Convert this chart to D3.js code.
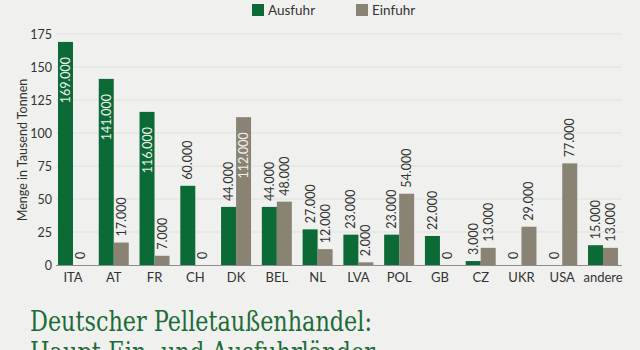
<!DOCTYPE html>
<html><head><meta charset="utf-8">
<script src="https://cdn.jsdelivr.net/npm/d3@7"></script>
<style>
html,body{margin:0;padding:0;background:#f0f1ee;}
svg{display:block;}
</style></head>
<body>
<svg id="c" width="640" height="350"></svg>
<script>
const categories = ["ITA","AT","FR","CH","DK","BEL","NL","LVA","POL","GB","CZ","UKR","USA","andere"];
const ausfuhr = [169,141,116,60,44,44,27,23,23,22,3,0,0,15];
const einfuhr = [0,17,7,0,112,48,12,2,54,0,13,29,77,13];
const yTicks = [0,25,50,75,100,125,150,175];
const seriesNames = ["Ausfuhr","Einfuhr"];
const colors = ["#0b6a35","#8a8373"];

const svg = d3.select("#c");
const font = "'Source Sans Pro','Lato','Noto Sans',sans-serif";
svg.append("rect").attr("width",640).attr("height",350).attr("fill","#f0f1ee");

const x = d3.scaleBand().domain(categories).range([52.6,623.4]).paddingInner(0).paddingOuter(0);
const y = d3.scaleLinear().domain([0,175]).range([265,34]);
const bw = 15;

// grid
svg.append("g").selectAll("line").data(yTicks.filter(d=>d>0)).join("line")
  .attr("x1",56).attr("x2",622).attr("y1",d=>y(d)).attr("y2",d=>y(d))
  .attr("stroke","#dfe0dc").attr("stroke-width",1);

// y axis
const ya = svg.append("g").attr("transform","translate(56,0)")
  .call(d3.axisLeft(y).tickValues(yTicks).tickSize(0).tickPadding(4));
ya.select(".domain").remove();
ya.selectAll("text").attr("font-family",font).attr("font-size",12.5).attr("fill","#333");

svg.append("text").attr("transform","translate(27,150) rotate(-90)")
  .attr("text-anchor","middle").attr("font-family",font).attr("font-size",12.5).attr("fill","#333")
  .text("Menge in Tausend Tonnen");

const data = categories.map((c,i)=>({c, vals:[ausfuhr[i],einfuhr[i]]}));
const g = svg.append("g");
data.forEach(d=>{
  d.vals.forEach((v,k)=>{
    const cx = x(d.c)+x.bandwidth()/2;
    const bx = k===0 ? cx-bw : cx;
    g.append("rect").attr("x",bx).attr("y",y(v)).attr("width",bw).attr("height",y(0)-y(v)).attr("fill",colors[k]);
    const txt = v===0 ? "0" : (v + ".000");
    const inside = v > 100;
    const ty = inside ? y(v)+15 : y(v)-6;
    g.append("text")
      .attr("transform",`translate(${bx+bw/2+4.5},${ty}) rotate(-90)`)
      .attr("text-anchor", inside ? "end" : "start")
      .attr("font-family",font).attr("font-size",12.5)
      .attr("fill", inside ? "#eef3ee" : "#333")
      .text(txt);
  });
});

// x baseline
svg.append("line").attr("x1",56).attr("x2",622).attr("y1",265.5).attr("y2",265.5).attr("stroke","#8c8c8c").attr("stroke-width",1);

// x axis labels
const xa = svg.append("g").attr("transform","translate(0,265)")
  .call(d3.axisBottom(x).tickSize(0).tickPadding(8));
xa.select(".domain").remove();
xa.selectAll("text").attr("font-family",font).attr("font-size",13).attr("fill","#333");

// legend
const leg = svg.append("g");
const lx = [252,356];
seriesNames.forEach((n,i)=>{
  leg.append("rect").attr("x",lx[i]).attr("y",4).attr("width",12).attr("height",12).attr("fill",colors[i]);
  leg.append("text").attr("x",lx[i]+16).attr("y",14.5).attr("font-family",font).attr("font-size",13.5).attr("fill","#333").text(n);
});

// title
const tfont = "'Roboto Slab','DejaVu Serif',serif";
svg.append("text").attr("x",30).attr("y",331).attr("font-family",tfont).attr("font-size",27).attr("fill","#1c6b38")
  .attr("textLength",342).attr("lengthAdjust","spacingAndGlyphs").text("Deutscher Pelletaußenhandel:");
svg.append("text").attr("x",30).attr("y",362).attr("font-family",tfont).attr("font-size",27).attr("fill","#1c6b38")
  .attr("textLength",345).attr("lengthAdjust","spacingAndGlyphs").text("Haupt-Ein- und Ausfuhrländer");
</script>
</body></html>
